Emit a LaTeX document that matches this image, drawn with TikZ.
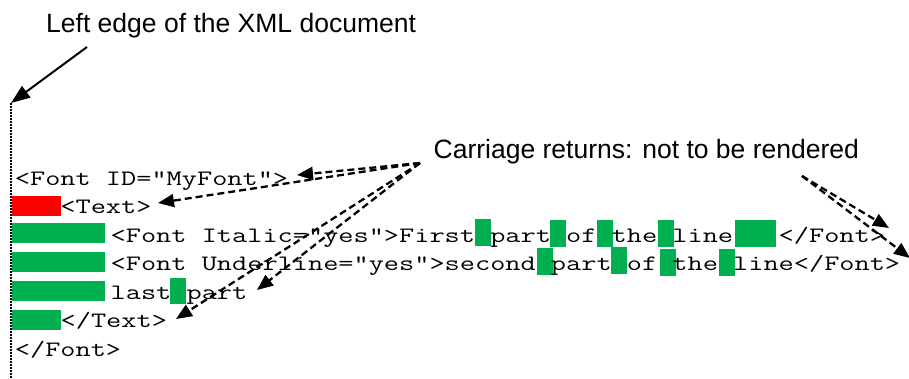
\documentclass[tikz,border=0pt]{standalone}
\usepackage{fontspec}
\usepackage{graphicx}
\setmainfont{Liberation Sans}
\usetikzlibrary{arrows.meta}

\definecolor{tabgreen}{RGB}{0,176,80}
\definecolor{tabred}{RGB}{255,0,0}

% typewriter source lines, widened to a 15.17pt character cell
\newcommand{\srcline}[1]{\scalebox{1.340}[1]{\ttfamily\fontsize{22}{26}\selectfont #1}}

\begin{document}
\begin{tikzpicture}[x=1pt,y=-1pt,
  codeline/.style={anchor=base west,inner sep=0pt},
  caption/.style={anchor=base west,inner sep=0pt,font=\fontsize{26.5}{30}\selectfont},
  greenmark/.style={fill=tabgreen},
  redmark/.style={fill=tabred},
  pointer/.style={line width=2pt,-{Triangle[length=19pt,width=14pt]}},
  crarrow/.style={line width=2.3pt,dash pattern=on 7pt off 4pt,-{Triangle[length=16pt,width=13pt]}},
  docedge/.style={line width=1.5pt,dash pattern=on 1.5pt off 1.5pt},
]
\useasboundingbox (0,0) rectangle (909,378);

% left edge of the document
\coordinate (edgetop) at (11,103);
\coordinate (edgebot) at (11,378);
\draw[docedge] (edgetop) -- (edgebot);

% indentation (tabs) and the one misplaced leading tab
\fill[redmark]   (12,196) rectangle (61,216);
\fill[greenmark] (12,223) rectangle (105,243);
\fill[greenmark] (12,252) rectangle (105,272);
\fill[greenmark] (12,281) rectangle (105,301);
\fill[greenmark] (12,310) rectangle (61,330);

% spaces between the words
\fill[greenmark] (475,219) rectangle (491,246);
\fill[greenmark] (550,220) rectangle (566,247);
\fill[greenmark] (597,220) rectangle (613,247);
\fill[greenmark] (658,220) rectangle (674,247);
\fill[greenmark] (735,220) rectangle (776,247);
\fill[greenmark] (537,248) rectangle (553,275);
\fill[greenmark] (611,247) rectangle (627,274);
\fill[greenmark] (660,249) rectangle (676,276);
\fill[greenmark] (719,249) rectangle (735,276);
\fill[greenmark] (170,278) rectangle (186,304);

% the XML source
\node[codeline] (l1) at (14.7,185)  {\srcline{<Font ID="MyFont">}};
\node[codeline] (l2) at (60.2,213.5) {\srcline{<Text>}};
\node[codeline] (l3) at (110.5,242) {\srcline{<Font Italic="yes">First~part~of~the~line~~~</Font>}};
\node[codeline] (l4) at (110.5,270.5) {\srcline{<Font Underline="yes">second~part~of~the~line</Font>}};
\node[codeline] (l5) at (110.5,299) {\srcline{last~part}};
\node[codeline] (l6) at (60.5,327.5) {\srcline{</Text>}};
\node[codeline] (l7) at (14.7,356) {\srcline{</Font>}};

% captions
\node[caption] (edgelabel) at (46,32.3) {Left edge of the XML document};
\node[caption] (crlabel) at (433.5,158) {Carriage returns: not to be rendered};

% pointer to the document edge
\coordinate (edgefrom) at (87,47);
\draw[pointer] (edgefrom) -- (edgetop);

% pointers to the carriage returns
\coordinate (crleft) at (420,163);
\coordinate (crright) at (802,176);
\coordinate (cr1) at (297,175);
\coordinate (cr2) at (158,203);
\coordinate (cr3) at (257,290);
\coordinate (cr4) at (176,319);
\coordinate (cr5) at (889,228);
\coordinate (cr6) at (910,258);
\draw[crarrow] (crleft) -- (cr1);
\draw[crarrow] (crleft) -- (cr2);
\draw[crarrow] (crleft) -- (cr3);
\draw[crarrow] (crleft) -- (cr4);
\draw[crarrow] (crright) -- (cr5);
\draw[crarrow] (crright) -- (cr6);
\end{tikzpicture}
\end{document}
